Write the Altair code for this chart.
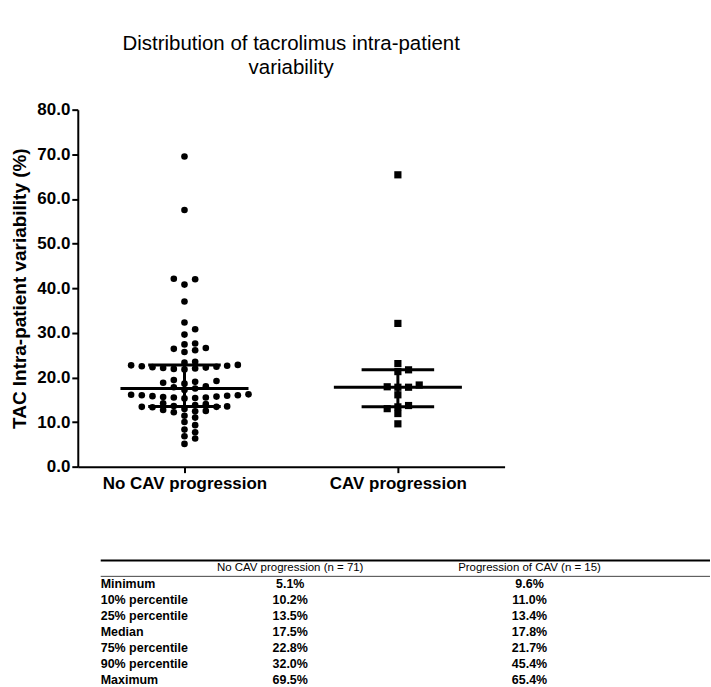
import altair as alt
import pandas as pd

# ---- data -------------------------------------------------------------
groups = ["No CAV progression", "CAV progression"]

# tacrolimus intra-patient variability (%) per patient
no_cav_values = [
    5.1, 6.3, 6.8, 7.7, 8.3, 9.3, 10.0, 11.0, 11.4,
    12.2, 12.4, 12.5, 12.7, 12.9,
    13.3, 13.4, 13.4, 13.5, 13.6, 13.8, 14.0, 14.2,
    15.3, 15.4, 15.5, 15.5, 15.6, 15.7, 15.8, 15.9, 16.0, 16.0, 16.1, 16.2,
    17.2, 17.5, 17.8, 18.0,
    18.6, 18.8, 19.0, 19.2, 19.4,
    21.8, 21.9, 22.0, 22.1, 22.2, 22.3, 22.4, 22.5, 22.6, 22.7, 22.8,
    23.3, 23.5, 25.7, 26.1, 26.4, 26.6, 27.4, 27.6,
    29.6, 30.8, 32.3, 37.0, 40.8, 42.0, 42.1, 57.5, 69.5,
]
cav_values = [
    9.6, 11.9, 13.0, 13.4, 13.7, 16.1, 17.8, 17.8, 17.9, 18.3,
    21.3, 21.7, 23.1, 32.1, 65.4,
]

stat_names = ["Minimum", "10% percentile", "25% percentile", "Median",
              "75% percentile", "90% percentile", "Maximum"]
no_cav_stats = [5.1, 10.2, 13.5, 17.5, 22.8, 32.0, 69.5]
cav_stats = [9.6, 11.0, 13.4, 17.8, 21.7, 45.4, 65.4]
table_headers = ["No CAV progression (n = 71)", "Progression of CAV (n = 15)"]

title_lines = ["Distribution of tacrolimus intra-patient", "variability"]
y_title = "TAC Intra-patient variability (%)"

# ---- layout constants --------------------------------------------------
FONT = "Liberation Sans"
PLOT_W, PLOT_H = 428, 358
Y_MAX = 80
X_LO, X_HI = 0.5, 2.5
SLOT_PX = 10.7          # horizontal spacing of the dot columns
MIN_GAP = 1.4           # smallest vertical gap (in %) between dots of one column
MEDIAN_HALF = 0.30      # half width of the median bar (x units)
QUART_HALF = 0.17       # half width of the quartile bars
ROW_H = 16              # table row height
TABLE_W = 634


def swarm_slots(values):
    """Column slot for every dot so that dots sharing a column keep apart."""
    order = sorted(range(len(values)), key=lambda i: values[i])
    used = {}
    slots = [0] * len(values)
    for n, i in enumerate(order):
        v = values[i]
        side = -1 if n % 2 == 0 else 1
        k = 0
        while True:
            cands = [0] if k == 0 else [side * k, -side * k]
            free = [s for s in cands
                    if all(abs(v - u) >= MIN_GAP for u in used.get(s, []))]
            if free:
                slot = free[0]
                break
            k += 1
        used.setdefault(slot, []).append(v)
        slots[i] = slot
    return slots


x_per_px = (X_HI - X_LO) / PLOT_W

point_rows = []
for g, vals in enumerate([no_cav_values, cav_values], start=1):
    for v, s in zip(vals, swarm_slots(vals)):
        point_rows.append({"group": g, "value": v, "xpos": g + s * SLOT_PX * x_per_px})
points = pd.DataFrame(point_rows)

hbar_rows, vbar_rows = [], []
for g, st in enumerate([no_cav_stats, cav_stats], start=1):
    q1, med, q3 = st[2], st[3], st[4]
    hbar_rows.append({"xpos": g - MEDIAN_HALF, "xpos2": g + MEDIAN_HALF, "value": med})
    hbar_rows.append({"xpos": g - QUART_HALF, "xpos2": g + QUART_HALF, "value": q1})
    hbar_rows.append({"xpos": g - QUART_HALF, "xpos2": g + QUART_HALF, "value": q3})
    vbar_rows.append({"xpos": g, "value": q1, "value2": q3})
hbars = pd.DataFrame(hbar_rows)
vbars = pd.DataFrame(vbar_rows)

label_expr = f"datum.value == 1 ? '{groups[0]}' : '{groups[1]}'"

x_enc = alt.X(
    "xpos:Q",
    scale=alt.Scale(domain=[X_LO, X_HI], nice=False, zero=False),
    axis=alt.Axis(values=[1, 2], labelExpr=label_expr, title=None,
                  labelFontSize=17, labelFontWeight="bold", labelPadding=3,
                  tickSize=6, labelFlush=False),
)
y_enc = alt.Y(
    "value:Q",
    scale=alt.Scale(domain=[0, Y_MAX], nice=False),
    axis=alt.Axis(values=list(range(0, Y_MAX + 1, 10)), format=".1f",
                  title=y_title, titleFontSize=19, titleFontWeight="bold",
                  titlePadding=7, labelFontSize=17, labelFontWeight="bold",
                  labelPadding=2, tickSize=6),
)

circles = alt.Chart(points).transform_filter("datum.group == 1").mark_point(
    shape="circle", filled=True, size=44, color="black", opacity=1
).encode(x=x_enc, y=y_enc)

squares = alt.Chart(points).transform_filter("datum.group == 2").mark_point(
    shape="square", filled=True, size=52, color="black", opacity=1
).encode(x=x_enc, y=y_enc)

hlines = alt.Chart(hbars).mark_rule(color="black", strokeWidth=3).encode(
    x=x_enc, x2="xpos2:Q", y=y_enc
)
vlines = alt.Chart(vbars).mark_rule(color="black", strokeWidth=3).encode(
    x=x_enc, y=y_enc, y2="value2:Q"
)

plot = alt.layer(circles, squares, hlines, vlines).properties(
    width=PLOT_W,
    height=PLOT_H,
    title=alt.TitleParams(title_lines, fontSize=20.5, fontWeight="normal",
                          font=FONT, anchor="middle", lineHeight=24,
                          offset=22, color="black"),
)

# ---- summary table ------------------------------------------------------
row_keys = ["header"] + stat_names
body = pd.DataFrame({
    "row": stat_names,
    "c1": [f"{v:.1f}%" for v in no_cav_stats],
    "c2": [f"{v:.1f}%" for v in cav_stats],
})
head = pd.DataFrame({"row": ["header"], "h1": [table_headers[0]], "h2": [table_headers[1]]})

row_enc = alt.Y("row:N", scale=alt.Scale(type="point", domain=row_keys, padding=0.5),
                axis=None)

LABEL_X, COL1_X, COL2_X, LINE_X0 = 23, 213, 453, 23

body_style = dict(font=FONT, fontSize=12.5, fontWeight="bold", color="black", baseline="middle")
head_style = dict(font=FONT, fontSize=11.5, fontWeight="normal", color="black", baseline="middle")

t_labels = alt.Chart(body).mark_text(align="left", **body_style).encode(
    x=alt.value(LABEL_X), y=row_enc, text="row:N")
t_c1 = alt.Chart(body).mark_text(align="center", **body_style).encode(
    x=alt.value(COL1_X), y=row_enc, text="c1:N")
t_c2 = alt.Chart(body).mark_text(align="center", **body_style).encode(
    x=alt.value(COL2_X), y=row_enc, text="c2:N")
t_h1 = alt.Chart(head).mark_text(align="center", **head_style).encode(
    x=alt.value(COL1_X), y=row_enc, text="h1:N")
t_h2 = alt.Chart(head).mark_text(align="center", **head_style).encode(
    x=alt.value(COL2_X), y=row_enc, text="h2:N")

top_rule = alt.Chart(head).mark_rule(color="black", strokeWidth=2).encode(
    x=alt.value(LINE_X0), x2=alt.value(TABLE_W), y=alt.value(0))
head_rule = alt.Chart(head).mark_rule(color="#444444", strokeWidth=1).encode(
    x=alt.value(LINE_X0), x2=alt.value(TABLE_W), y=alt.value(ROW_H))

table = alt.layer(top_rule, head_rule, t_h1, t_h2, t_labels, t_c1, t_c2).properties(
    width=TABLE_W, height=ROW_H * len(row_keys)
)

chart = alt.vconcat(plot, table, spacing=68).properties(
    padding={"left": 10, "top": 33, "right": 0, "bottom": 0},
    background="white",
).configure_view(stroke=None).configure_axis(
    domainColor="black", tickColor="black", labelColor="black", titleColor="black",
    domainWidth=2, tickWidth=2, grid=False, labelFont=FONT, titleFont=FONT,
).configure_text(font=FONT)

chart.save("out.html", embed_options={"renderer": "svg", "actions": False})
